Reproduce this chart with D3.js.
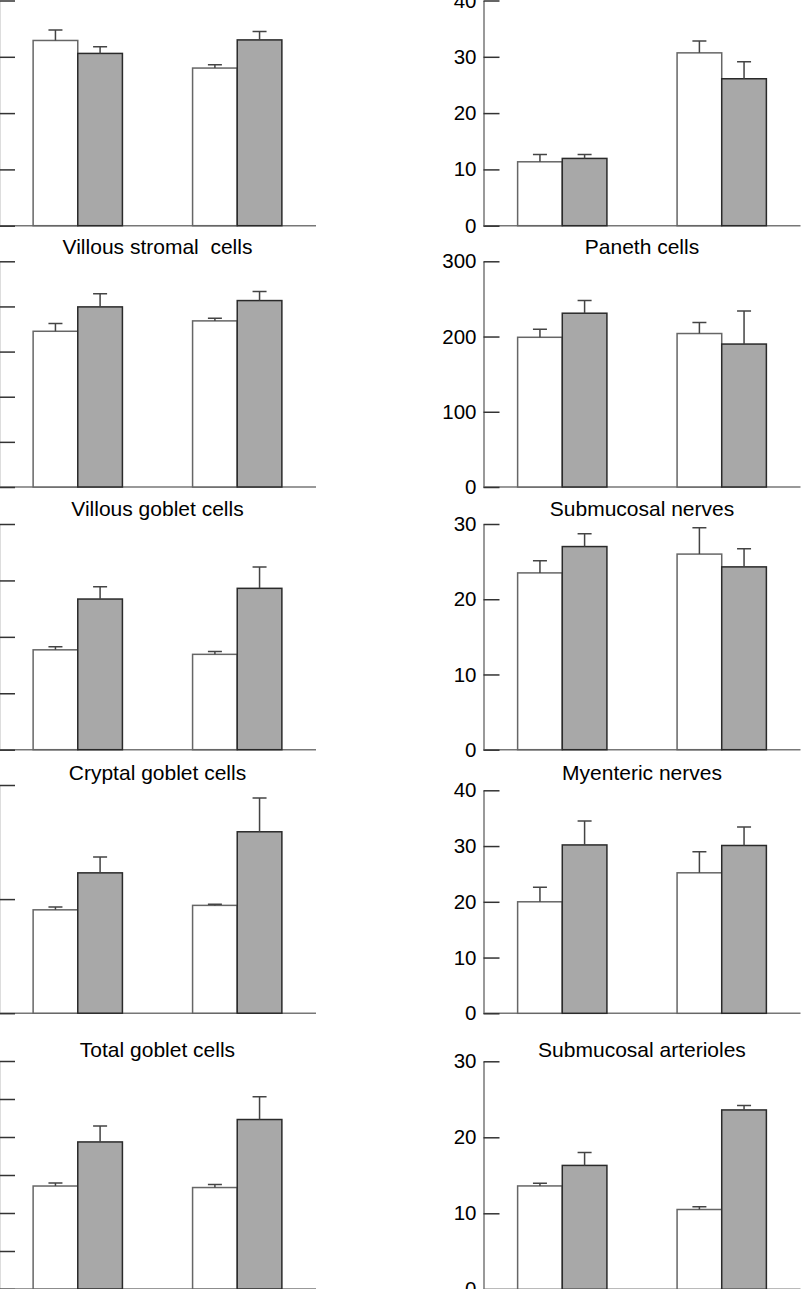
<!DOCTYPE html>
<html>
<head>
<meta charset="utf-8">
<script src="https://cdn.jsdelivr.net/npm/d3@7"></script>
<style>
  body { margin: 0; background: #fff; }
  svg { display: block; font-family: "Liberation Sans", Arial, sans-serif; }
  .title { white-space: pre; }
</style>
</head>
<body>
<svg id="chart" width="801" height="1289"></svg>
<script>
// groups on the x axis and the two series in each group
const groups = ['Group 1', 'Group 2'];
const series = ['Control', 'Treated'];

// panels, read left to right then top to bottom (top row titles are cropped)
const panelTitles = [
  '', '',
  'Villous stromal  cells', 'Paneth cells',
  'Villous goblet cells', 'Submucosal nerves',
  'Cryptal goblet cells', 'Myenteric nerves',
  'Total goblet cells', 'Submucosal arterioles'
];
const panelTicks = [
  [0, 10, 20, 30, 40], [0, 10, 20, 30, 40],
  [0, 10, 20, 30, 40, 50], [0, 100, 200, 300],
  [0, 10, 20, 30, 40], [0, 10, 20, 30],
  [0, 10, 20], [0, 10, 20, 30, 40],
  [0, 10, 20, 30, 40, 50, 60], [0, 10, 20, 30]
];
const controlMeans = [
  [32.9, 28.0], [11.35, 30.7],
  [34.5, 36.8], [199, 204],
  [17.7, 16.9], [23.5, 26.0],
  [9.06, 9.45], [20.0, 25.2],
  [27.1, 26.7], [13.6, 10.5]
];
const controlErrors = [
  [1.85, 0.6], [1.3, 2.1],
  [1.7, 0.6], [10.6, 14.6],
  [0.55, 0.5], [1.6, 3.5],
  [0.24, 0.1], [2.6, 3.8],
  [0.8, 0.8], [0.35, 0.35]
];
const treatedMeans = [
  [30.6, 33.0], [11.95, 26.1],
  [39.9, 41.3], [231, 190],
  [26.7, 28.6], [27.0, 24.3],
  [12.3, 15.9], [30.2, 30.1],
  [38.7, 44.6], [16.3, 23.6]
];
const treatedErrors = [
  [1.2, 1.5], [0.7, 3.0],
  [2.9, 2.0], [16.8, 43.8],
  [2.2, 3.8], [1.7, 2.4],
  [1.4, 2.95], [4.3, 3.3],
  [4.2, 6.0], [1.7, 0.6]
];

// page layout (the left column's axis labels fall outside the crop)
const colX = [-1, 483.5];
const panelW = 317;
const layout = [
  { top: 0.5, base: 225.7, titleY: null }, { top: 0.5, base: 225.7, titleY: null },
  { top: 261.3, base: 487, titleY: 254 }, { top: 261.3, base: 487, titleY: 254 },
  { top: 524, base: 749.7, titleY: 516 }, { top: 524, base: 749.7, titleY: 516 },
  { top: 785, base: 1013.2, titleY: 779.5 }, { top: 790.3, base: 1013.3, titleY: 780 },
  { top: 1061, base: 1289, titleY: 1057 }, { top: 1061.3, base: 1289.3, titleY: 1057 }
];

const svg = d3.select('#chart');

const x = d3.scaleBand()
  .domain(groups)
  .range([0, panelW])
  .paddingInner(0.44)
  .paddingOuter(0.214);

const xs = d3.scaleBand()
  .domain(series)
  .range([0, x.bandwidth()]);

const fills = { Control: '#ffffff', Treated: '#a8a8a8' };
const strokes = { Control: '#666666', Treated: '#2a2a2a' };

panelTitles.forEach((title, i) => {
  const col = i % 2;
  const lay = layout[i];
  const ticks = panelTicks[i];

  const y = d3.scaleLinear()
    .domain([0, ticks[ticks.length - 1]])
    .range([lay.base, lay.top]);

  const g = svg.append('g').attr('transform', `translate(${colX[col]},0)`);

  const rows = [];
  groups.forEach((grp, j) => {
    rows.push({ group: grp, series: 'Control', value: controlMeans[i][j], err: controlErrors[i][j] });
    rows.push({ group: grp, series: 'Treated', value: treatedMeans[i][j], err: treatedErrors[i][j] });
  });

  // baseline
  g.append('line')
    .attr('x1', 0).attr('x2', panelW)
    .attr('y1', y(0)).attr('y2', y(0))
    .attr('stroke', '#777').attr('stroke-width', 1.5);

  g.selectAll('rect.bar')
    .data(rows)
    .join('rect')
    .attr('class', 'bar')
    .attr('x', d => x(d.group) + xs(d.series))
    .attr('y', d => y(d.value))
    .attr('width', xs.bandwidth())
    .attr('height', d => y(0) - y(d.value))
    .attr('fill', d => fills[d.series])
    .attr('stroke', d => strokes[d.series])
    .attr('stroke-width', 1.5);

  g.selectAll('path.err')
    .data(rows)
    .join('path')
    .attr('class', 'err')
    .attr('d', d => {
      const cx = x(d.group) + xs(d.series) + xs.bandwidth() / 2;
      const y0 = y(d.value), y1 = y(d.value + d.err);
      return `M${cx},${y0}V${y1}M${cx - 7},${y1}H${cx + 7}`;
    })
    .attr('fill', 'none')
    .attr('stroke', '#444')
    .attr('stroke-width', 1.5);

  const axis = d3.axisLeft(y)
    .tickValues(ticks)
    .tickSizeInner(-16)
    .tickSizeOuter(0)
    .tickPadding(7);
  if (col === 0) axis.tickFormat(() => '');

  const ax = g.append('g').call(axis);
  ax.select('.domain').attr('stroke', '#777').attr('stroke-width', 1.5);
  ax.selectAll('.tick line').attr('stroke', '#333').attr('stroke-width', 1.5);
  ax.selectAll('.tick text')
    .attr('font-size', 20.5)
    .attr('font-family', '"Liberation Sans", Arial, sans-serif')
    .attr('fill', '#000');

  if (lay.titleY !== null) {
    g.append('text')
      .attr('class', 'title')
      .attr('x', panelW / 2)
      .attr('y', lay.titleY)
      .attr('text-anchor', 'middle')
      .attr('font-size', 21)
      .attr('fill', '#000')
      .text(title);
  }
});
</script>
</body>
</html>
